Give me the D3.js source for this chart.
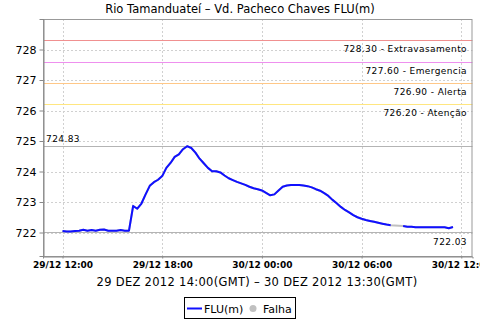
<!DOCTYPE html>
<html>
<head>
<meta charset="utf-8">
<title>Rio Tamanduateí - Vd. Pacheco Chaves FLU(m)</title>
<script src="https://cdn.jsdelivr.net/npm/d3@7"></script>
<style>
  body { margin: 0; background: #fff; }
  svg text { font-family: "DejaVu Sans", sans-serif; fill: #000; }
  .grid line { stroke: #d0d0d0; stroke-dasharray: 2,2; }
</style>
</head>
<body>
<svg id="chart" width="480" height="320"></svg>
<script>
// readings every 15 minutes, local time (29/12 12:00 -> 30/12 11:30)
var times = [
  "2012-12-29T12:00","2012-12-29T12:15","2012-12-29T12:30","2012-12-29T12:45",
  "2012-12-29T13:00","2012-12-29T13:15","2012-12-29T13:30","2012-12-29T13:45",
  "2012-12-29T14:00","2012-12-29T14:15","2012-12-29T14:30","2012-12-29T14:45",
  "2012-12-29T15:00","2012-12-29T15:15","2012-12-29T15:30","2012-12-29T15:45",
  "2012-12-29T16:00","2012-12-29T16:15","2012-12-29T16:30","2012-12-29T16:45",
  "2012-12-29T17:00","2012-12-29T17:15","2012-12-29T17:30","2012-12-29T17:45",
  "2012-12-29T18:00","2012-12-29T18:15","2012-12-29T18:30","2012-12-29T18:45",
  "2012-12-29T19:00","2012-12-29T19:15","2012-12-29T19:30","2012-12-29T19:45",
  "2012-12-29T20:00","2012-12-29T20:15","2012-12-29T20:30","2012-12-29T20:45",
  "2012-12-29T21:00","2012-12-29T21:15","2012-12-29T21:30","2012-12-29T21:45",
  "2012-12-29T22:00","2012-12-29T22:15","2012-12-29T22:30","2012-12-29T22:45",
  "2012-12-29T23:00","2012-12-29T23:15","2012-12-29T23:30","2012-12-29T23:45",
  "2012-12-30T00:00","2012-12-30T00:15","2012-12-30T00:30","2012-12-30T00:45",
  "2012-12-30T01:00","2012-12-30T01:15","2012-12-30T01:30","2012-12-30T01:45",
  "2012-12-30T02:00","2012-12-30T02:15","2012-12-30T02:30","2012-12-30T02:45",
  "2012-12-30T03:00","2012-12-30T03:15","2012-12-30T03:30","2012-12-30T03:45",
  "2012-12-30T04:00","2012-12-30T04:15","2012-12-30T04:30","2012-12-30T04:45",
  "2012-12-30T05:00","2012-12-30T05:15","2012-12-30T05:30","2012-12-30T05:45",
  "2012-12-30T06:00","2012-12-30T06:15","2012-12-30T06:30","2012-12-30T06:45",
  "2012-12-30T07:00","2012-12-30T07:15","2012-12-30T07:30","2012-12-30T07:45",
  "2012-12-30T08:00","2012-12-30T08:15","2012-12-30T08:30","2012-12-30T08:45",
  "2012-12-30T09:00","2012-12-30T09:15","2012-12-30T09:30","2012-12-30T09:45",
  "2012-12-30T10:00","2012-12-30T10:15","2012-12-30T10:30","2012-12-30T10:45",
  "2012-12-30T11:00","2012-12-30T11:15","2012-12-30T11:30"
];
// FLU(m), null = Falha (no reading)
var flu = [
  722.05,722.03,722.03,722.05, 722.06,722.09,722.06,722.08,
  722.06,722.09,722.10,722.06, 722.06,722.06,722.08,722.06,
  722.06,722.87,722.78,722.95, 723.25,723.53,723.65,723.73,
  723.85,724.12,724.28,724.48, 724.56,724.73,724.83,724.77,
  724.62,724.42,724.27,724.12, 724.01,724.01,723.97,723.87,
  723.78,723.72,723.66,723.61, 723.56,723.50,723.45,723.42,
  723.38,723.30,723.22,723.25, 723.38,723.50,723.54,723.56,
  723.56,723.56,723.54,723.52, 723.48,723.42,723.37,723.29,
  723.20,723.07,722.96,722.84, 722.74,722.66,722.57,722.50,
  722.45,722.41,722.38,722.35, 722.32,722.29,722.26,722.24,
  null,null,722.21,722.19, 722.19,722.17,722.17,722.17,
  722.17,722.17,722.17,722.17, 722.17,722.14,722.18
];

var yTicks = [722, 723, 724, 725, 726, 727, 728];
var xTicks = ["2012-12-29T12:00","2012-12-29T18:00","2012-12-30T00:00","2012-12-30T06:00","2012-12-30T12:00"];
var xDomain = ["2012-12-29T10:49:30", "2012-12-30T12:40:30"];
var yDomain = [721.23, 729.0];

// alarm levels
var levelValues = [728.30, 727.60, 726.90, 726.20];
var levelNames  = ["Extravasamento", "Emergencia", "Alerta", "Atenção"];
var levelColors = ["#f09090", "#ee90ee", "#ffc888", "#ffe680"];

var maxValue = 724.83, minValue = 722.03;

var title = "Rio Tamanduateí – Vd. Pacheco Chaves FLU(m)";
var period = "29 DEZ 2012 14:00(GMT) – 30 DEZ 2012 13:30(GMT)";

var parse = d3.utcParse("%Y-%m-%dT%H:%M");
var parseS = d3.utcParse("%Y-%m-%dT%H:%M:%S");
var data = times.map(function(t, i) { return { t: parse(t), v: flu[i] }; });

var svg = d3.select("#chart");
var pL = 43, pR = 472.5, pT = 19, pB = 256;

var x = d3.scaleUtc().domain(xDomain.map(parseS)).range([pL, pR]);
var y = d3.scaleLinear().domain(yDomain).range([pB, pT]);

svg.append("text")
  .attr("x", 240).attr("y", 13)
  .attr("text-anchor", "middle")
  .style("font-size", "11.5px")
  .text(title);

// grid
svg.append("g").attr("class", "grid")
  .selectAll("line").data(yTicks).enter().append("line")
  .attr("x1", pL).attr("x2", pR)
  .attr("y1", function(d) { return Math.round(y(d)) + 0.5; })
  .attr("y2", function(d) { return Math.round(y(d)) + 0.5; });
svg.append("g").attr("class", "grid")
  .selectAll("line").data(xTicks).enter().append("line")
  .attr("y1", pT).attr("y2", pB)
  .attr("x1", function(d) { return Math.round(x(parse(d))) + 0.5; })
  .attr("x2", function(d) { return Math.round(x(parse(d))) + 0.5; });

// alarm lines + labels
levelValues.forEach(function(v, i) {
  var yy = Math.round(y(v)) + 0.5;
  svg.append("line")
    .attr("x1", pL).attr("x2", pR).attr("y1", yy).attr("y2", yy)
    .attr("stroke", levelColors[i]).attr("stroke-width", 1);
  svg.append("text")
    .attr("x", 467).attr("y", yy + 11.5)
    .attr("text-anchor", "end")
    .style("font-size", "9px")
    .style("letter-spacing", "0.4px")
    .text(v.toFixed(2) + " - " + levelNames[i]);
});

// max / min markers
var yMax = Math.round(y(maxValue)) + 0.5, yMin = Math.round(y(minValue)) + 0.5;
svg.append("line").attr("x1", pL).attr("x2", pR).attr("y1", yMax).attr("y2", yMax)
  .attr("stroke", "#b4b4b4");
svg.append("line").attr("x1", pL).attr("x2", pR).attr("y1", yMin).attr("y2", yMin)
  .attr("stroke", "#b4b4b4");
svg.append("text").attr("x", 46).attr("y", yMax - 5)
  .style("font-size", "9px").style("letter-spacing", "0.4px")
  .text(maxValue.toFixed(2));
svg.append("text").attr("x", 467).attr("y", yMin + 12)
  .attr("text-anchor", "end")
  .style("font-size", "9px").style("letter-spacing", "0.4px")
  .text(minValue.toFixed(2));

// series: gray underneath bridges the missing readings
var line = d3.line()
  .x(function(d) { return x(d.t); })
  .y(function(d) { return y(d.v); });
svg.append("path")
  .datum(data.filter(function(d) { return d.v != null; }))
  .attr("fill", "none").attr("stroke", "#c0c0c0").attr("stroke-width", 2)
  .attr("d", line);
svg.append("path")
  .datum(data)
  .attr("fill", "none").attr("stroke", "#1010ff").attr("stroke-width", 2)
  .attr("stroke-linejoin", "round")
  .attr("d", line.defined(function(d) { return d.v != null; }));

// frame
svg.append("rect")
  .attr("x", pL + 0.5).attr("y", pT + 0.5)
  .attr("width", pR - pL - 1).attr("height", pB - pT)
  .attr("fill", "none").attr("stroke", "#999");

// axes
var yAxis = svg.append("g")
  .attr("transform", "translate(" + (pL + 0.5) + ",0)")
  .call(d3.axisLeft(y).tickValues(yTicks).tickSize(4).tickPadding(3).tickFormat(d3.format("d")));
yAxis.select(".domain").attr("stroke", "#888");
yAxis.selectAll(".tick line").attr("stroke", "#888");
yAxis.selectAll("text").style("font-size", "11px");

var xAxis = svg.append("g")
  .attr("transform", "translate(0," + (pB + 0.5) + ")")
  .call(d3.axisBottom(x).tickValues(xTicks.map(parse)).tickSize(2).tickPadding(3)
    .tickFormat(d3.utcFormat("%d/%m %H:%M")));
xAxis.select(".domain").attr("stroke", "#888");
xAxis.selectAll(".tick line").attr("stroke", "#888");
xAxis.selectAll("text").style("font-size", "9px").style("font-weight", "bold");

svg.append("text")
  .attr("x", 257).attr("y", 286)
  .attr("text-anchor", "middle")
  .style("font-size", "11.5px")
  .style("letter-spacing", "0.3px")
  .text(period);

// legend
var lg = svg.append("g");
lg.append("rect").attr("x", 184.5).attr("y", 297.5).attr("width", 111).attr("height", 21)
  .attr("fill", "#fff").attr("stroke", "#000");
lg.append("line").attr("x1", 187).attr("x2", 202).attr("y1", 308.5).attr("y2", 308.5)
  .attr("stroke", "#1010ff").attr("stroke-width", 2);
lg.append("text").attr("x", 204).attr("y", 312.5).style("font-size", "11px").text("FLU(m)");
lg.append("circle").attr("cx", 253).attr("cy", 308.5).attr("r", 3.5).attr("fill", "#c0c0c0");
lg.append("text").attr("x", 263).attr("y", 312.5).style("font-size", "11px").text("Falha");
</script>
</body>
</html>
